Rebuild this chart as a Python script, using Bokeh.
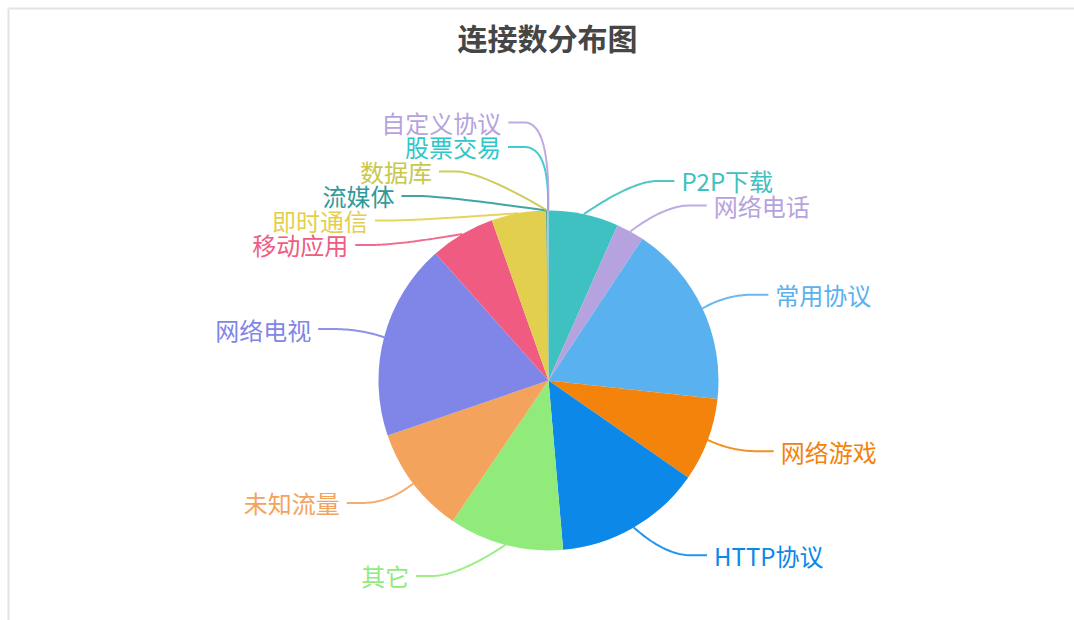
import math
import numpy as np
from bokeh.plotting import figure
from bokeh.models import Range1d, Label, ColumnDataSource
from bokeh.core.properties import value
from bokeh.embed import file_html
from bokeh.resources import INLINE

# ---------------- data ----------------
title_text = "连接数分布图"
categories = ["P2P下载", "网络电话", "常用协议", "网络游戏", "HTTP协议", "其它", "未知流量",
              "网络电视", "移动应用", "即时通信", "流媒体", "数据库", "股票交易", "自定义协议"]
values = [24.0, 9.6, 62.8, 28.6, 50.4, 39.3, 36.9, 67.4, 22.2, 18.7, 0.3, 0.3, 0.1, 0.1]
colors = ["#3fc0c1", "#b6a2de", "#5ab1ef", "#f3830a", "#0b88e8", "#91eb7b", "#f4a35d",
          "#7f86e8", "#f05b82", "#e3cf4e", "#2f9a9b", "#c8c84a", "#2ec7c9", "#b6a2de"]

# ---------------- layout constants ----------------
W, H = 1074, 620
CX, CY = 548.0, H - 380.0
R = 170.0
LEN1 = 32.0
LEN2 = 40.0
R2 = 236.0
GAP = 24.5
TEXT_GAP = 7
FONT = "Noto Sans CJK SC"

total = float(sum(values))
cum = np.concatenate([[0.0], np.cumsum(values)])
th0 = cum[:-1] / total * 2 * math.pi
th1 = cum[1:] / total * 2 * math.pi
start = math.pi / 2 - th1
end = math.pi / 2 - th0
mid = (th0 + th1) / 2
ux = np.sin(mid)
uy = np.cos(mid)

p = figure(width=W, height=H, x_range=Range1d(0, W), y_range=Range1d(0, H),
           x_axis_type=None, y_axis_type=None, toolbar_location=None,
           output_backend="svg", min_border=0, outline_line_color=None)
p.grid.visible = False
p.background_fill_color = "white"

# frame lines (top and left)
p.segment(x0=[8, 8], y0=[0, H - 8], x1=[8, W], y1=[H - 8, H - 8],
          line_color="#e3e3e3", line_width=2)

src = ColumnDataSource(dict(start=start, end=end, color=colors, name=categories))
p.wedge(x=CX, y=CY, radius=R, start_angle="start", end_angle="end",
        fill_color="color", line_color=None, source=src)

# ---------------- label layout ----------------
n = len(values)
p1x = CX + R * ux
p1y = CY + R * uy
p2x = CX + (R + LEN1) * ux
p2y = CY + (R + LEN1) * uy
side = np.where(ux >= 0, 1, -1)
label_y = p2y.copy()


def resolve(idx):
    idx = sorted(idx, key=lambda i: -p2y[i])
    clusters = [[i] for i in idx]

    def place(cl):
        c = np.mean([p2y[i] for i in cl])
        k = len(cl)
        return [c + ((k - 1) / 2 - j) * GAP for j in range(k)]

    changed = True
    while changed:
        changed = False
        pos = [place(cl) for cl in clusters]
        for a in range(len(clusters) - 1):
            if pos[a][-1] - pos[a + 1][0] < GAP:
                clusters[a] = clusters[a] + clusters[a + 1]
                del clusters[a + 1]
                changed = True
                break
    for cl in clusters:
        for i, y in zip(cl, place(cl)):
            label_y[i] = y


resolve([i for i in range(n) if side[i] > 0])
resolve([i for i in range(n) if side[i] < 0])

xs, ys, lcol = [], [], []
tx, ty, talign = [], [], []
for i in range(n):
    dy = abs(label_y[i] - CY)
    if dy < R + LEN1 + 15:
        dx = math.sqrt(max(R2 * R2 - dy * dy, 0.0))
    else:
        dx = abs(p2x[i] - CX) + LEN2
    ex = CX + side[i] * dx
    ey = label_y[i]
    bx = ex - side[i] * LEN2
    by = ey
    ax_ = p1x[i] + (bx - p1x[i]) * 0.15
    ay_ = p1y[i] + (by - p1y[i]) * 0.15
    qx = bx + (ex - bx) * 0.6
    qy = by
    t = np.linspace(0, 1, 30)
    cxs = (1 - t) ** 2 * ax_ + 2 * (1 - t) * t * bx + t ** 2 * qx
    cys = (1 - t) ** 2 * ay_ + 2 * (1 - t) * t * by + t ** 2 * qy
    xs.append([p1x[i]] + list(cxs) + [ex])
    ys.append([p1y[i]] + list(cys) + [ey])
    lcol.append(colors[i])
    tx.append(ex + side[i] * TEXT_GAP)
    ty.append(ey)
    talign.append("left" if side[i] > 0 else "right")

p.multi_line(xs=xs, ys=ys, line_color=lcol, line_width=2, line_alpha=0.9)

tsrc = ColumnDataSource(dict(x=tx, y=ty, text=categories, color=colors, align=talign))
p.text(x="x", y="y", text="text", text_color="color", text_align="align",
       text_baseline="middle", text_font=value(FONT), text_font_size="24px", source=tsrc)

p.add_layout(Label(x=CX - 1, y=H - 36, x_units="data", y_units="data", text=title_text,
                   text_font=FONT, text_font_size="30px", text_font_style="bold",
                   text_color="#464646", text_align="center", text_baseline="middle"))

open("out.html", "w").write(file_html(p, INLINE))
